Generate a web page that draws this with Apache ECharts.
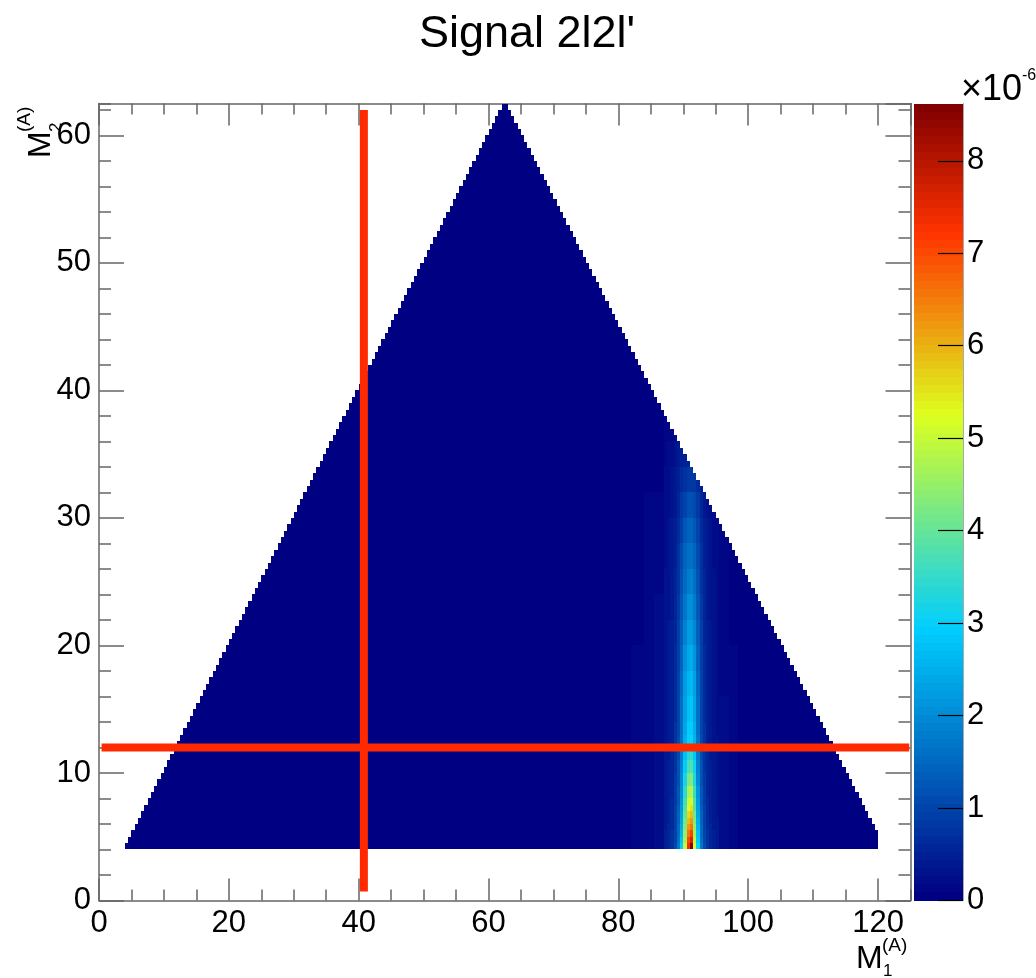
<!DOCTYPE html>
<html><head><meta charset="utf-8">
<script src="https://cdn.jsdelivr.net/npm/echarts@6/dist/echarts.min.js"></script>
<style>html,body{margin:0;padding:0;background:#fff}#c{width:1036px;height:978px}</style>
</head><body><div id="c"></div>
<script>
// ---------------- data ----------------
const binWidth = 0.5;
const supportM1 = [4, 120];     // M1 range of filled bins
const supportM2 = [4, 62.5];    // M2 range of filled bins
const supportSumMax = 125;      // M1 + M2 upper limit (right edge of triangle); left edge: M2 <= M1

// ridge near M1 ~ 91 (values in units of 1e-6); lower edges of 0.5-wide M1 bins
const ridgeM1 = [87.0, 87.5, 88.0, 88.5, 89.0, 89.5, 90.0, 90.5, 91.0, 91.5, 92.0, 92.5, 93.0, 93.5, 94.0, 94.5, 95.0];
const ridgeM2Bands = [[4,4.5],[4.5,5],[5,5.5],[5.5,6],[6,6.5],[6.5,7],[7,7.5],[7.5,8],[8,9],[9,10],[10,11],[11,12],[12,13],[13,14],[14,16],[16,18],[18,20],[20,22],[22,24],[24,26],[26,28],[28,30],[30,32],[32,34],[34,36],[36,38]];
const ridgeValues = [
 [0.45,0.55,0.75,1.05,1.70,2.90,5.00,7.40,8.60,5.20,3.00,1.70,1.05,0.75,0.55,0.45,0.38],
 [0.45,0.55,0.72,1.00,1.60,2.70,4.70,7.00,7.70,4.90,2.80,1.60,1.00,0.72,0.55,0.45,0.38],
 [0.44,0.54,0.70,0.98,1.55,2.60,4.50,6.60,7.10,4.70,2.70,1.55,0.98,0.70,0.54,0.44,0.37],
 [0.43,0.53,0.68,0.95,1.50,2.50,4.30,6.20,6.60,4.50,2.60,1.50,0.95,0.68,0.53,0.43,0.36],
 [0.42,0.52,0.66,0.92,1.45,2.40,4.10,5.90,6.20,4.30,2.50,1.45,0.92,0.66,0.52,0.42,0.35],
 [0.41,0.51,0.65,0.90,1.40,2.30,3.95,5.60,5.90,4.10,2.40,1.40,0.90,0.65,0.51,0.41,0.34],
 [0.40,0.50,0.63,0.88,1.35,2.20,3.80,5.30,5.50,3.90,2.30,1.35,0.88,0.63,0.50,0.40,0.33],
 [0.39,0.49,0.62,0.86,1.30,2.15,3.65,5.00,5.20,3.75,2.20,1.30,0.86,0.62,0.49,0.39,0.32],
 [0.38,0.47,0.60,0.83,1.25,2.05,3.45,4.65,4.80,3.55,2.10,1.25,0.83,0.60,0.47,0.38,0.31],
 [0.37,0.46,0.58,0.80,1.20,1.95,3.20,4.20,4.30,3.30,1.98,1.20,0.80,0.58,0.46,0.37,0.30],
 [0.36,0.44,0.56,0.77,1.15,1.85,2.95,3.72,3.80,3.05,1.88,1.15,0.77,0.56,0.44,0.36,0.29],
 [0.35,0.43,0.54,0.74,1.10,1.75,2.72,3.33,3.40,2.82,1.78,1.10,0.74,0.54,0.43,0.35,0.28],
 [0.34,0.42,0.52,0.71,1.05,1.65,2.50,3.00,3.05,2.60,1.68,1.05,0.71,0.52,0.42,0.34,0.27],
 [0.33,0.41,0.51,0.70,1.03,1.62,2.42,2.90,2.95,2.52,1.64,1.03,0.70,0.51,0.41,0.33,0.26],
 [0.32,0.40,0.50,0.68,1.00,1.58,2.33,2.78,2.82,2.42,1.60,1.00,0.68,0.50,0.40,0.32,0.25],
 [0.31,0.38,0.48,0.66,0.96,1.50,2.20,2.60,2.65,2.28,1.52,0.96,0.66,0.48,0.38,0.31,0.24],
 [0.30,0.37,0.46,0.63,0.92,1.42,2.04,2.40,2.45,2.12,1.44,0.92,0.63,0.46,0.37,0.30,0.23],
 [0.29,0.35,0.44,0.60,0.88,1.34,1.88,2.20,2.25,1.96,1.36,0.88,0.60,0.44,0.35,0.29,0.22],
 [0.28,0.34,0.42,0.57,0.83,1.25,1.72,2.01,2.05,1.80,1.27,0.83,0.57,0.42,0.34,0.28,0.21],
 [0.27,0.32,0.40,0.54,0.78,1.15,1.56,1.82,1.85,1.64,1.17,0.78,0.54,0.40,0.32,0.27,0.20],
 [0.25,0.30,0.38,0.51,0.72,1.05,1.40,1.62,1.65,1.47,1.07,0.72,0.51,0.38,0.30,0.25,0.19],
 [0.23,0.28,0.35,0.47,0.66,0.94,1.23,1.42,1.45,1.30,0.96,0.66,0.47,0.35,0.28,0.23,0.18],
 [0.21,0.25,0.31,0.42,0.58,0.80,1.02,1.15,1.18,1.07,0.82,0.58,0.42,0.31,0.25,0.21,0.16],
 [0.18,0.22,0.27,0.35,0.47,0.62,0.76,0.84,0.86,0.79,0.64,0.47,0.35,0.27,0.22,0.18,0.14],
 [0.15,0.18,0.22,0.28,0.35,0.44,0.51,0.55,0.56,0.52,0.45,0.35,0.28,0.22,0.18,0.15,0.12],
 [0.12,0.14,0.17,0.20,0.24,0.28,0.31,0.32,0.32,0.30,0.27,0.23,0.19,0.16,0.13,0.11,0.09]
];
// faint glow around the ridge
const glowM1Bands = [[80,82],[82,84],[84,85.5],[85.5,87],[95.5,97],[97,98.5],[98.5,100]];
const glowM2Bands = [[4,8],[8,12],[12,16],[16,20],[20,24],[24,28],[28,32]];
const glowValues = [
 [0.06,0.10,0.16,0.26,0.20,0.12,0.06],
 [0.06,0.10,0.15,0.25,0.19,0.11,0.05],
 [0.05,0.09,0.14,0.23,0.18,0.10,0.05],
 [0.05,0.09,0.13,0.21,0.16,0.09,0.04],
 [0.04,0.08,0.12,0.19,0.15,0.08,0.04],
 [0.04,0.07,0.10,0.17,0.13,0.07,0.03],
 [0.03,0.06,0.09,0.15,0.11,0.06,0.03]
];
// red cut lines
const cutLineM1 = [[40.8, 0.7], [40.8, 62.0]];
const cutLineM2 = [[0.4, 12.0], [124.8, 12.0]];
// axes
const xRange = [0, 125];
const yRange = [0, 62.5];
const colorRange = [0, 8.62];
const titleText = "Signal 2l2l'";

// ---------------- build cells ----------------
function cellValue(x0, y0) {
  for (let b = 0; b < ridgeM2Bands.length; b++) {
    const [lo, hi] = ridgeM2Bands[b];
    if (y0 >= lo && y0 < hi) {
      const k = ridgeM1.indexOf(x0);
      if (k >= 0) return ridgeValues[b][k];
    }
  }
  for (let b = 0; b < glowM2Bands.length; b++) {
    const [lo, hi] = glowM2Bands[b];
    if (y0 >= lo && y0 < hi) {
      for (let j = 0; j < glowM1Bands.length; j++) {
        if (x0 >= glowM1Bands[j][0] && x0 < glowM1Bands[j][1]) return glowValues[b][j];
      }
    }
  }
  return 0;
}
const cells = [];
for (let y0 = supportM2[0]; y0 < supportM2[1] - 1e-9; y0 += binWidth) {
  const xStart = Math.max(supportM1[0], y0);
  const xEnd = Math.min(supportM1[1], supportSumMax - y0);
  let runStart = null, runVal = null, last = null;
  for (let x0 = xStart; x0 + binWidth <= xEnd + 1e-9; x0 += binWidth) {
    const v = cellValue(x0, y0);
    if (runStart === null) { runStart = x0; runVal = v; }
    else if (v !== runVal) { cells.push([runStart, x0, y0, y0 + binWidth, runVal]); runStart = x0; runVal = v; }
    last = x0 + binWidth;
  }
  if (runStart !== null) cells.push([runStart, last, y0, y0 + binWidth, runVal]);
}

// ---------------- palette (ROOT-style gradient) ----------------
const nContours = 99;
const palStops = [0.00, 0.34, 0.61, 0.84, 1.00];
const palR = [0.00, 0.00, 0.87, 1.00, 0.51];
const palG = [0.00, 0.81, 1.00, 0.20, 0.00];
const palB = [0.51, 1.00, 0.12, 0.00, 0.00];
function palColor(t) {
  let i = 0;
  while (i < palStops.length - 2 && t > palStops[i + 1]) i++;
  const f = (t - palStops[i]) / (palStops[i + 1] - palStops[i]);
  const c = (a) => Math.round(255 * (a[i] + f * (a[i + 1] - a[i])));
  return 'rgb(' + c(palR) + ',' + c(palG) + ',' + c(palB) + ')';
}
const pieces = [];
const barBands = [];
for (let i = 0; i < nContours; i++) {
  const lo = colorRange[0] + (colorRange[1] - colorRange[0]) * i / nContours;
  const hi = colorRange[0] + (colorRange[1] - colorRange[0]) * (i + 1) / nContours;
  const p = { gte: lo, color: palColor(i / (nContours - 1)) };
  if (i < nContours - 1) p.lt = hi; else p.lte = hi + 1;
  pieces.push(p);
  barBands.push([0, 1, lo, hi, (lo + hi) / 2]);
}

// ---------------- chart ----------------
const FF = '"Liberation Sans", Arial, Helvetica, sans-serif';
const lineStyleAx = { color: '#666', width: 1.5 };
function ax(type, pos, range, interval, len, labels, line) {
  return {
    type: 'value', gridIndex: 0, position: pos, min: range[0], max: range[1], interval: interval,
    axisLine: { show: line, onZero: false, lineStyle: lineStyleAx },
    axisTick: { show: true, inside: true, length: len, lineStyle: lineStyleAx },
    axisLabel: { show: labels, color: '#000', fontSize: 31, fontFamily: FF, showMaxLabel: false,
                 margin: type === 'x' ? 7 : 8 },
    splitLine: { show: false }
  };
}

function renderCell(params, api) {
  const p0 = api.coord([api.value(0), api.value(3)]);
  const p1 = api.coord([api.value(1), api.value(2)]);
  const x = Math.round(p0[0]), y = Math.round(p0[1]);
  return {
    type: 'rect',
    shape: { x: x, y: y, width: Math.round(p1[0]) - x, height: Math.round(p1[1]) - y },
    style: { fill: api.visual('color') }
  };
}

const chart = echarts.init(document.getElementById('c'), null, { renderer: 'canvas' });
chart.setOption({
  animation: false,
  backgroundColor: '#fff',
  grid: [
    { left: 99, top: 103.5, width: 811.5, height: 797 },
    { left: 913.5, top: 103.5, width: 49.5, height: 797 }
  ],
  xAxis: [
    ax('x', 'bottom', xRange, 20, 22, true, true),
    ax('x', 'bottom', xRange, 5, 11, false, false),
    ax('x', 'top', xRange, 20, 22, false, true),
    ax('x', 'top', xRange, 5, 11, false, false),
    { type: 'value', gridIndex: 1, min: 0, max: 1, show: false }
  ],
  yAxis: [
    ax('y', 'left', yRange, 10, 25, true, true),
    ax('y', 'left', yRange, 2, 12, false, false),
    ax('y', 'right', yRange, 10, 25, false, true),
    ax('y', 'right', yRange, 2, 12, false, false),
    { type: 'value', gridIndex: 1, position: 'right', min: colorRange[0], max: colorRange[1], interval: 1, z: 5,
      axisLine: { show: true, onZero: false, lineStyle: { color: '#aaa', width: 1 } },
      axisTick: { show: true, inside: true, length: 25, lineStyle: { color: '#000', width: 1.2 } },
      axisLabel: { show: true, color: '#000', fontSize: 31, fontFamily: FF, margin: 4, showMaxLabel: false },
      splitLine: { show: false } }
  ],
  visualMap: {
    type: 'piecewise', show: false, dimension: 4, seriesIndex: [0, 1], pieces: pieces
  },
  series: [
    { type: 'custom', name: 'hist', xAxisIndex: 0, yAxisIndex: 0, silent: true, clip: true,
      dimensions: ['x0', 'x1', 'y0', 'y1', 'v'], encode: { x: [0, 1], y: [2, 3] },
      renderItem: renderCell, data: cells },
    { type: 'custom', name: 'palette', xAxisIndex: 4, yAxisIndex: 4, silent: true,
      dimensions: ['x0', 'x1', 'y0', 'y1', 'v'], encode: { x: [0, 1], y: [2, 3] },
      renderItem: renderCell, data: barBands },
    { type: 'line', xAxisIndex: 0, yAxisIndex: 0, data: cutLineM1, symbol: 'none', silent: true, z: 4,
      lineStyle: { color: '#ff2a00', width: 8, cap: 'butt' } },
    { type: 'line', xAxisIndex: 0, yAxisIndex: 0, data: cutLineM2, symbol: 'none', silent: true, z: 4,
      lineStyle: { color: '#ff2a00', width: 8, cap: 'butt' } }
  ],
  graphic: [
    { type: 'text', x: 527, y: 35, z: 10,
      style: { text: titleText, font: '45px ' + FF, fill: '#000', textAlign: 'center', textVerticalAlign: 'middle', align: 'center', verticalAlign: 'middle' } },
    // x title M_1^(A)
    { type: 'text', x: 856, y: 959, z: 10,
      style: { text: 'M', font: '32px ' + FF, fill: '#000', textAlign: 'left', textVerticalAlign: 'middle', align: 'left', verticalAlign: 'middle' } },
    { type: 'text', x: 883, y: 971, z: 10,
      style: { text: '1', font: '17px ' + FF, fill: '#000', textAlign: 'left', textVerticalAlign: 'middle', align: 'left', verticalAlign: 'middle' } },
    { type: 'text', x: 882, y: 946, z: 10,
      style: { text: '(A)', font: '19px ' + FF, fill: '#000', textAlign: 'left', textVerticalAlign: 'middle', align: 'left', verticalAlign: 'middle' } },
    // y title M_2^(A) rotated
    { type: 'group', x: 53, y: 158, rotation: Math.PI / 2, z: 10, children: [
      { type: 'text', x: 0, y: -11.5,
        style: { text: 'M', font: '32px ' + FF, fill: '#000', textAlign: 'left', textVerticalAlign: 'middle', align: 'left', verticalAlign: 'middle' } },
      { type: 'text', x: 26, y: 3,
        style: { text: '2', font: '17px ' + FF, fill: '#000', textAlign: 'left', textVerticalAlign: 'middle', align: 'left', verticalAlign: 'middle' } },
      { type: 'text', x: 26, y: -28,
        style: { text: '(A)', font: '19px ' + FF, fill: '#000', textAlign: 'left', textVerticalAlign: 'middle', align: 'left', verticalAlign: 'middle' } }
    ] },
    // palette exponent
    { type: 'text', x: 961, y: 90, z: 10,
      style: { text: '\u00d710', font: '36px ' + FF, fill: '#000', textAlign: 'left', textVerticalAlign: 'middle', align: 'left', verticalAlign: 'middle' } },
    { type: 'text', x: 1022, y: 76, z: 10,
      style: { text: '-6', font: '16px ' + FF, fill: '#000', textAlign: 'left', textVerticalAlign: 'middle', align: 'left', verticalAlign: 'middle' } }
  ]
});
</script>
</body></html>
